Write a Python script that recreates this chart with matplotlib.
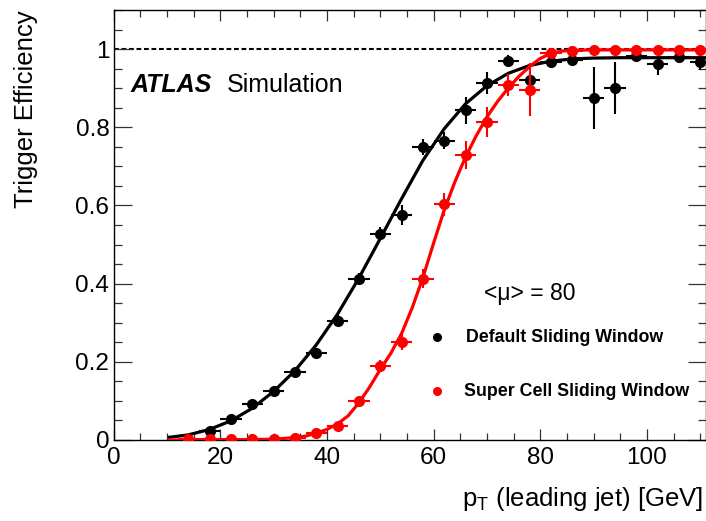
import matplotlib
matplotlib.use("Agg")
import matplotlib.pyplot as plt
from matplotlib.ticker import MultipleLocator

# bin centres (GeV), 4 GeV bins
pt_default = [18, 22, 26, 30, 34, 38, 42, 46, 50, 54, 58, 62, 66, 70, 74, 78,
              82, 86, 90, 94, 98, 102, 106, 110]
eff_default = [0.024, 0.054, 0.091, 0.126, 0.173, 0.223, 0.305, 0.412, 0.528, 0.576,
               0.749, 0.766, 0.843, 0.913, 0.969, 0.920, 0.966, 0.971, 0.874, 0.900,
               0.983, 0.962, 0.981, 0.966]
err_default = [0.010, 0.010, 0.010, 0.012, 0.012, 0.013, 0.014, 0.016, 0.017, 0.025,
               0.020, 0.022, 0.034, 0.028, 0.015, 0.020, 0.012, 0.015, 0.079, 0.066,
               0.010, 0.028, 0.010, 0.020]

pt_super = [14, 18, 22, 26, 30, 34, 38, 42, 46, 50, 54, 58, 62, 66, 70, 74, 78,
            82, 86, 90, 94, 98, 102, 106, 110]
eff_super = [0.002, 0.002, 0.002, 0.002, 0.002, 0.004, 0.019, 0.037, 0.100, 0.189,
             0.251, 0.413, 0.603, 0.728, 0.813, 0.909, 0.896, 0.989, 0.996, 0.998,
             0.998, 0.998, 0.998, 0.998, 0.998]
err_super = [0.003, 0.003, 0.003, 0.003, 0.003, 0.003, 0.006, 0.008, 0.010, 0.015,
             0.020, 0.025, 0.030, 0.036, 0.038, 0.028, 0.068, 0.005, 0.003, 0.003,
             0.003, 0.003, 0.003, 0.003, 0.003]
bin_half = 2

# fit curves
fit_default_x = [10.5, 14, 18, 22, 26, 30, 34, 38, 42, 46, 50, 54, 58, 62, 66, 70,
                 74, 78, 82, 86, 90, 95, 111]
fit_default_y = [0.007, 0.013, 0.027, 0.049, 0.081, 0.124, 0.177, 0.243, 0.322, 0.414,
                 0.515, 0.617, 0.715, 0.796, 0.860, 0.906, 0.938, 0.958, 0.969, 0.975,
                 0.977, 0.978, 0.978]
fit_super_x = [10.5, 20, 26, 30, 34, 36, 38, 40, 42, 44, 46, 48, 50, 52, 54, 56, 58,
               60, 62, 64, 66, 68, 70, 72, 74, 76, 78, 80, 82, 84, 86, 90, 111]
fit_super_y = [0.000, 0.000, 0.001, 0.002, 0.006, 0.010, 0.017, 0.027, 0.041, 0.062,
               0.095, 0.135, 0.180, 0.222, 0.272, 0.338, 0.415, 0.503, 0.588, 0.660,
               0.724, 0.778, 0.826, 0.866, 0.900, 0.930, 0.955, 0.976, 0.989, 0.995,
               0.997, 0.998, 0.998]

mu_label = "<\u03bc> = 80"
labels = ["Default Sliding Window", "Super Cell Sliding Window"]
RED = "#ff0000"


def style_axes(ax):
    ax.set_xlim(0, 111)
    ax.set_ylim(0, 1.1)
    ax.xaxis.set_major_locator(MultipleLocator(20))
    ax.xaxis.set_minor_locator(MultipleLocator(5))
    ax.yaxis.set_major_locator(MultipleLocator(0.2))
    ax.yaxis.set_minor_locator(MultipleLocator(0.05))
    ax.set_yticks([0, 0.2, 0.4, 0.6, 0.8, 1.0])
    ax.set_yticklabels(["0", "0.2", "0.4", "0.6", "0.8", "1"])
    ax.tick_params(which="both", direction="in", top=True, right=True,
                   width=0.9, color="#333333", labelsize=17.5)
    ax.tick_params(axis="x", which="major", length=8, pad=5)
    ax.tick_params(axis="x", which="minor", length=5)
    ax.tick_params(axis="y", which="major", length=13, pad=3)
    ax.tick_params(axis="y", which="minor", length=6)
    for sp in ax.spines.values():
        sp.set_linewidth(1.0)
    ax.set_ylabel("Trigger Efficiency", fontsize=18.5)
    ax.yaxis.set_label_coords(-0.127, 1.0)
    ax.yaxis.label.set_ha("right")
    ax.set_xlabel(r"p$_{\mathregular{T}}$ (leading jet) [GeV]", fontsize=18.5)
    ax.xaxis.set_label_coords(0.997, -0.105)
    ax.xaxis.label.set_ha("right")


def main():
    plt.rcParams["font.family"] = ["Liberation Sans", "DejaVu Sans"]
    plt.rcParams["mathtext.fontset"] = "custom"
    plt.rcParams["mathtext.rm"] = "Liberation Sans"
    fig = plt.figure(figsize=(7.06, 5.21), dpi=100)
    ax = fig.add_axes([0.1608, 0.1555, 0.8385, 0.8253])

    ax.axhline(1.0, color="black", lw=1.5, ls=(0, (2.3, 1.3)), zorder=1)

    ax.plot(fit_default_x, fit_default_y, color="black", lw=2.3, zorder=2)
    ax.errorbar(pt_default, eff_default, yerr=err_default, xerr=bin_half,
                fmt="o", color="black", ms=7, elinewidth=1.5, capsize=0, zorder=3)
    ax.plot(fit_super_x, fit_super_y, color=RED, lw=2.3, zorder=4)
    ax.errorbar(pt_super, eff_super, yerr=err_super, xerr=bin_half,
                fmt="o", color=RED, ms=7, elinewidth=1.5, capsize=0, zorder=5)

    ax.text(3.1, 0.89, "ATLAS", fontsize=18, fontweight="bold", style="italic")
    ax.text(21.3, 0.89, "Simulation", fontsize=18)
    ax.text(69.4, 0.359, mu_label, fontsize=16.5)

    ax.plot([60.6], [0.263], "o", color="black", ms=5.5, clip_on=False)
    ax.plot([60.6], [0.125], "o", color=RED, ms=5.5, clip_on=False)
    ax.text(66.0, 0.263, labels[0], fontsize=12.8, fontweight="bold", va="center")
    ax.text(65.8, 0.125, labels[1], fontsize=12.8, fontweight="bold", va="center")

    style_axes(ax)
    fig.savefig("out.png", dpi=100)


if __name__ == '__main__':
    main()
